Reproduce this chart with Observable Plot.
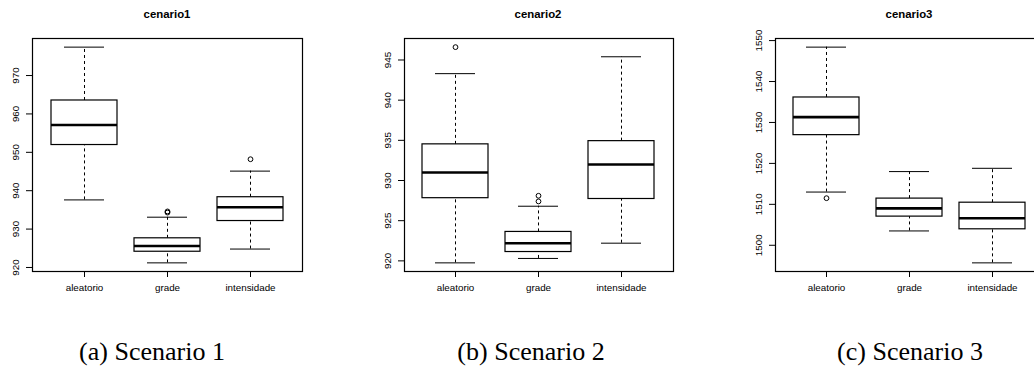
<!DOCTYPE html>
<html>
<head>
<meta charset="utf-8">
<script src="https://cdn.jsdelivr.net/npm/d3@7"></script>
<script src="https://cdn.jsdelivr.net/npm/@observablehq/plot@0.6"></script>
<style>
  html, body { margin: 0; padding: 0; background: #fff; overflow: hidden; }
  #root { position: relative; width: 1034px; height: 377px; overflow: hidden; background: #fff; }
  .panel { position: absolute; top: 0; }
  .panel svg { max-width: none !important; }
  .title { position: absolute; top: 8px; font: bold 11.4px "Liberation Sans", Arial, sans-serif; color: #000; transform: translateX(-50%); white-space: nowrap; }
  .caption { position: absolute; top: 337px; font: 26px "Liberation Serif", "DejaVu Serif", serif; color: #000; transform: translateX(-50%); white-space: nowrap; }
</style>
</head>
<body>
<div id="root"></div>
<script>
// ---- data ----
const categories = ["aleatorio", "grade", "intensidade"];
const panelTitles = ["cenario1", "cenario2", "cenario3"];
const captions = ["(a) Scenario 1", "(b) Scenario 2", "(c) Scenario 3"];

// cenario1 box statistics (per category)
const c1Low  = [937.6, 921.2, 924.8];
const c1Q1   = [951.9, 924.1, 932.1];
const c1Med  = [957.1, 925.6, 935.7];
const c1Q3   = [963.5, 927.6, 938.3];
const c1High = [977.4, 933.1, 945.1];
const c1OutCat = ["grade", "grade", "intensidade"];
const c1OutVal = [934.6, 934.3, 948.2];
const c1Ticks = [920, 930, 940, 950, 960, 970];

// cenario2
const c2Low  = [919.75, 920.3, 922.2];
const c2Q1   = [927.8, 921.1, 927.7];
const c2Med  = [931.0, 922.2, 932.0];
const c2Q3   = [934.5, 923.6, 934.9];
const c2High = [943.3, 926.8, 945.4];
const c2OutCat = ["aleatorio", "grade", "grade"];
const c2OutVal = [946.6, 928.1, 927.4];
const c2Ticks = [920, 925, 930, 935, 940, 945];

// cenario3
const c3Low  = [1513.0, 1503.5, 1495.7];
const c3Q1   = [1526.9, 1507.0, 1503.9];
const c3Med  = [1531.3, 1509.0, 1506.6];
const c3Q3   = [1536.1, 1511.4, 1510.4];
const c3High = [1548.4, 1518.0, 1518.8];
const c3OutCat = ["aleatorio"];
const c3OutVal = [1511.5];
const c3Ticks = [1500, 1510, 1520, 1530, 1540, 1550];

// ---- layout ----
const panels = [
  {left: 0,   width: 345, ml: 32, mr: 43,   low: c1Low, q1: c1Q1, med: c1Med, q3: c1Q3, high: c1High, oc: c1OutCat, ov: c1OutVal, ticks: c1Ticks, tx: 167, cx: 152},
  {left: 345, width: 345, ml: 59, mr: 17,   low: c2Low, q1: c2Q1, med: c2Med, q3: c2Q3, high: c2High, oc: c2OutCat, ov: c2OutVal, ticks: c2Ticks, tx: 538, cx: 531},
  {left: 690, width: 370, ml: 85, mr: 16,   low: c3Low, q1: c3Q1, med: c3Med, q3: c3Q3, high: c3High, oc: c3OutCat, ov: c3OutVal, ticks: c3Ticks, tx: 909, cx: 910}
];

const root = document.getElementById("root");

panels.forEach((p, i) => {
  const rows = categories.map((c, j) => ({cat: c, low: p.low[j], q1: p.q1[j], med: p.med[j], q3: p.q3[j], high: p.high[j]}));
  const outs = p.oc.map((c, j) => ({cat: c, v: p.ov[j]}));
  const all = [...p.low, ...p.high, ...p.ov];
  const lo = d3.min(all), hi = d3.max(all), pad = (hi - lo) * 0.04;

  const chart = Plot.plot({
    width: p.width,
    height: 300,
    marginLeft: p.ml,
    marginRight: p.mr,
    marginTop: 38,
    marginBottom: 29,
    style: {fontFamily: "'Liberation Sans', Arial, sans-serif", fontSize: "9.8px", color: "#000", background: "#fff", overflow: "visible", maxWidth: "none"},
    x: {type: "band", domain: categories, paddingInner: 0.2, paddingOuter: 0.22, align: 0.5, label: null},
    y: {domain: [lo - pad, hi + pad], label: null},
    marks: [
      Plot.ruleX(rows, {x: "cat", y1: "q3", y2: "high", stroke: "#000", strokeWidth: 1, strokeDasharray: "3,3"}),
      Plot.ruleX(rows, {x: "cat", y1: "low", y2: "q1", stroke: "#000", strokeWidth: 1, strokeDasharray: "3,3"}),
      Plot.tickY(rows, {x: "cat", y: "high", stroke: "#000", strokeWidth: 1, insetLeft: 13, insetRight: 13}),
      Plot.tickY(rows, {x: "cat", y: "low", stroke: "#000", strokeWidth: 1, insetLeft: 13, insetRight: 13}),
      Plot.barY(rows, {x: "cat", y1: "q1", y2: "q3", fill: "#fff", stroke: "#000", strokeWidth: 1.2}),
      Plot.tickY(rows, {x: "cat", y: "med", stroke: "#000", strokeWidth: 2.6}),
      Plot.dot(outs, {x: "cat", y: "v", r: 2.4, stroke: "#000", fill: "none", strokeWidth: 1}),
      Plot.frame({stroke: "#000", strokeWidth: 1.2}),
      Plot.axisY({ticks: p.ticks, tickSize: 6, tickPadding: 8, tickRotate: -90, tickFormat: d => String(d), label: null}),
      Plot.axisX({tickSize: 6, tickPadding: 7, label: null})
    ]
  });

  const wrap = document.createElement("div");
  wrap.className = "panel";
  wrap.style.left = p.left + "px";
  wrap.style.width = p.width + "px";
  wrap.appendChild(chart);
  root.appendChild(wrap);

  const t = document.createElement("div");
  t.className = "title";
  t.style.left = p.tx + "px";
  t.textContent = panelTitles[i];
  root.appendChild(t);

  const cap = document.createElement("div");
  cap.className = "caption";
  cap.style.left = p.cx + "px";
  cap.textContent = captions[i];
  root.appendChild(cap);
});
</script>
</body>
</html>
